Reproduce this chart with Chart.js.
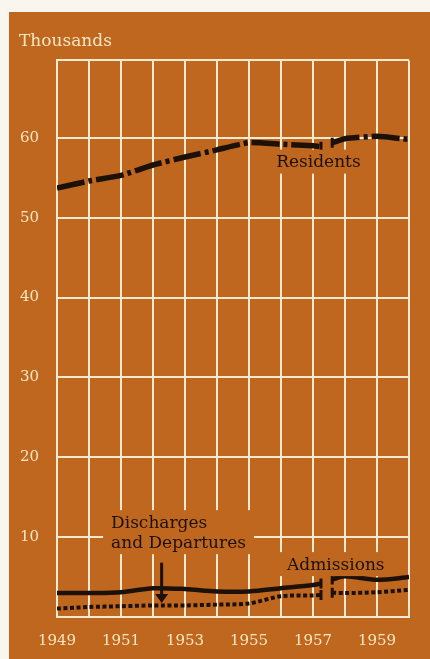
<!DOCTYPE html>
<html>
<head>
<meta charset="utf-8">
<script src="https://cdn.jsdelivr.net/npm/chart.js@4.4.1/dist/chart.umd.min.js"></script>
<style>
  html, body { margin: 0; padding: 0; background: #f9f5ef; }
  body { width: 430px; height: 659px; position: relative; overflow: hidden; }
  #wrap { position: absolute; left: 9px; top: 12px; width: 421px; height: 647px; background: #c0671f; }
</style>
</head>
<body>
<div id="wrap"><canvas id="c"></canvas></div>
<script>
// ---- data ----
// x positions in years; a null value marks the break in the series (1957)
const years       = [1949, 1950, 1951, 1952, 1953, 1954, 1955, 1956, 1957, 1957.25, 1957.4, 1957.6, 1958, 1959, 1960];
const residents   = [53.7, 54.6, 55.3, 56.6, 57.6, 58.5, 59.4, 59.2, 59.0, 58.9, null, 59.4, 59.9, 60.2, 59.8];
const admissions  = [3.0, 3.0, 3.1, 3.6, 3.5, 3.2, 3.2, 3.6, 4.0, 4.2, null, 4.7, 5.1, 4.65, 5.0];
const discharges  = [1.05, 1.25, 1.35, 1.45, 1.45, 1.55, 1.7, 2.6, 2.7, 2.75, null, 3.05, 3.0, 3.1, 3.4];
const breakYears  = [1957.25, 1957.6];

const xTickLabels = ['1949', '1951', '1953', '1955', '1957', '1959'];
const yTickLabels = ['10', '20', '30', '40', '50', '60'];
const yAxisTitle  = 'Thousands';

// annotation texts (positions in data units)
const notes = [
  { lines: ['Residents'], x: 1957.17, y: 56.9, align: 'center' },
  { lines: ['Discharges', 'and Departures'], x: 1950.69, y: 11.75, align: 'left' },
  { lines: ['Admissions'], x: 1956.19, y: 6.5, align: 'left' }
];
const arrow = { x: 1952.27, yFrom: 6.8, yTo: 1.75 };

// ---- styles ----
const BG = '#c0671f';
const GRID = '#f7ead0';
const TICK = '#f6e7c4';
const INK = '#1c1109';
const SERIF = '"DejaVu Serif", "Liberation Serif", serif';

function pts(vals) { return years.map((x, i) => ({ x: x, y: vals[i] })); }
function endRadius(ctx) {
  const x = years[ctx.dataIndex];
  return breakYears.includes(x) ? 5 : 0;
}

const notesPlugin = {
  id: 'notes',
  afterDatasetsDraw(chart) {
    const { ctx, scales: { x, y } } = chart;
    ctx.save();
    ctx.font = '17px ' + SERIF;
    ctx.textBaseline = 'middle';
    const lh = 20;
    notes.forEach(n => {
      const px = x.getPixelForValue(n.x);
      const py = y.getPixelForValue(n.y);
      const w = Math.max(...n.lines.map(t => ctx.measureText(t).width));
      const h = n.lines.length * lh;
      const left = n.align === 'center' ? px - w / 2 : px;
      const top = py - lh / 2;
      // background patch hiding the grid behind the label
      ctx.fillStyle = BG;
      ctx.fillRect(left - 8, top - 3, w + 16, h + 4);
      ctx.fillStyle = INK;
      ctx.textAlign = 'left';
      n.lines.forEach((t, i) => ctx.fillText(t, left, py + i * lh));
    });
    // arrow
    const ax = x.getPixelForValue(arrow.x);
    const ay1 = y.getPixelForValue(arrow.yFrom);
    const ay2 = y.getPixelForValue(arrow.yTo);
    ctx.strokeStyle = INK;
    ctx.fillStyle = INK;
    ctx.lineWidth = 3;
    ctx.beginPath();
    ctx.moveTo(ax, ay1);
    ctx.lineTo(ax, ay2 - 6);
    ctx.stroke();
    ctx.beginPath();
    ctx.moveTo(ax - 6.5, ay2 - 9);
    ctx.lineTo(ax + 6.5, ay2 - 9);
    ctx.lineTo(ax, ay2);
    ctx.closePath();
    ctx.fill();
    ctx.restore();
  }
};

new Chart(document.getElementById('c'), {
  type: 'line',
  data: {
    datasets: [
      {
        label: 'Residents',
        data: pts(residents),
        borderColor: INK,
        borderWidth: 5.5,
        borderDash: [28, 4, 4, 4],
        borderCapStyle: 'butt',
        tension: 0.15,
        spanGaps: false,
        pointStyle: 'line',
        rotation: 90,
        pointRadius: endRadius,
        pointBorderWidth: 3,
        pointBorderColor: INK,
        pointHoverRadius: 0
      },
      {
        label: 'Admissions',
        data: pts(admissions),
        borderColor: INK,
        borderWidth: 4.5,
        tension: 0.3,
        spanGaps: false,
        pointStyle: 'line',
        rotation: 90,
        pointRadius: endRadius,
        pointBorderWidth: 3,
        pointBorderColor: INK,
        pointHoverRadius: 0
      },
      {
        label: 'Discharges and Departures',
        data: pts(discharges),
        borderColor: INK,
        borderWidth: 4,
        borderDash: [4, 2.5],
        borderCapStyle: 'butt',
        tension: 0.3,
        spanGaps: false,
        pointStyle: 'line',
        rotation: 90,
        pointRadius: endRadius,
        pointBorderWidth: 3,
        pointBorderColor: INK,
        pointHoverRadius: 0
      }
    ]
  },
  options: {
    responsive: true,
    maintainAspectRatio: false,
    animation: false,
    events: [],
    layout: { padding: { left: 10, right: 21, top: 0, bottom: 12 } },
    plugins: {
      legend: { display: false },
      tooltip: { enabled: false },
      title: {
        display: true,
        text: yAxisTitle,
        align: 'start',
        color: TICK,
        font: { family: SERIF, size: 17, weight: 'normal' },
        padding: { top: 19, bottom: 9 }
      }
    },
    scales: {
      x: {
        type: 'linear',
        min: 1949,
        max: 1960,
        afterFit: s => { s.height = 30; },
        border: { display: true, color: GRID, width: 2 },
        grid: { color: GRID, lineWidth: 2, drawTicks: false },
        ticks: {
          stepSize: 1,
          autoSkip: false,
          maxRotation: 0,
          padding: 15,
          color: TICK,
          font: { family: SERIF, size: 15 },
          callback: v => xTickLabels.includes(String(v)) ? String(v) : ''
        }
      },
      y: {
        type: 'linear',
        min: 0,
        max: 69.7,
        afterFit: s => { s.width = 38; },
        border: { display: true, color: GRID, width: 2 },
        grid: { color: GRID, lineWidth: 2, drawTicks: false },
        ticks: {
          stepSize: 10,
          padding: 18,
          color: TICK,
          font: { family: SERIF, size: 15 },
          callback: v => yTickLabels.includes(String(v)) ? String(v) : ''
        }
      }
    }
  },
  plugins: [notesPlugin]
});
</script>
</body>
</html>
